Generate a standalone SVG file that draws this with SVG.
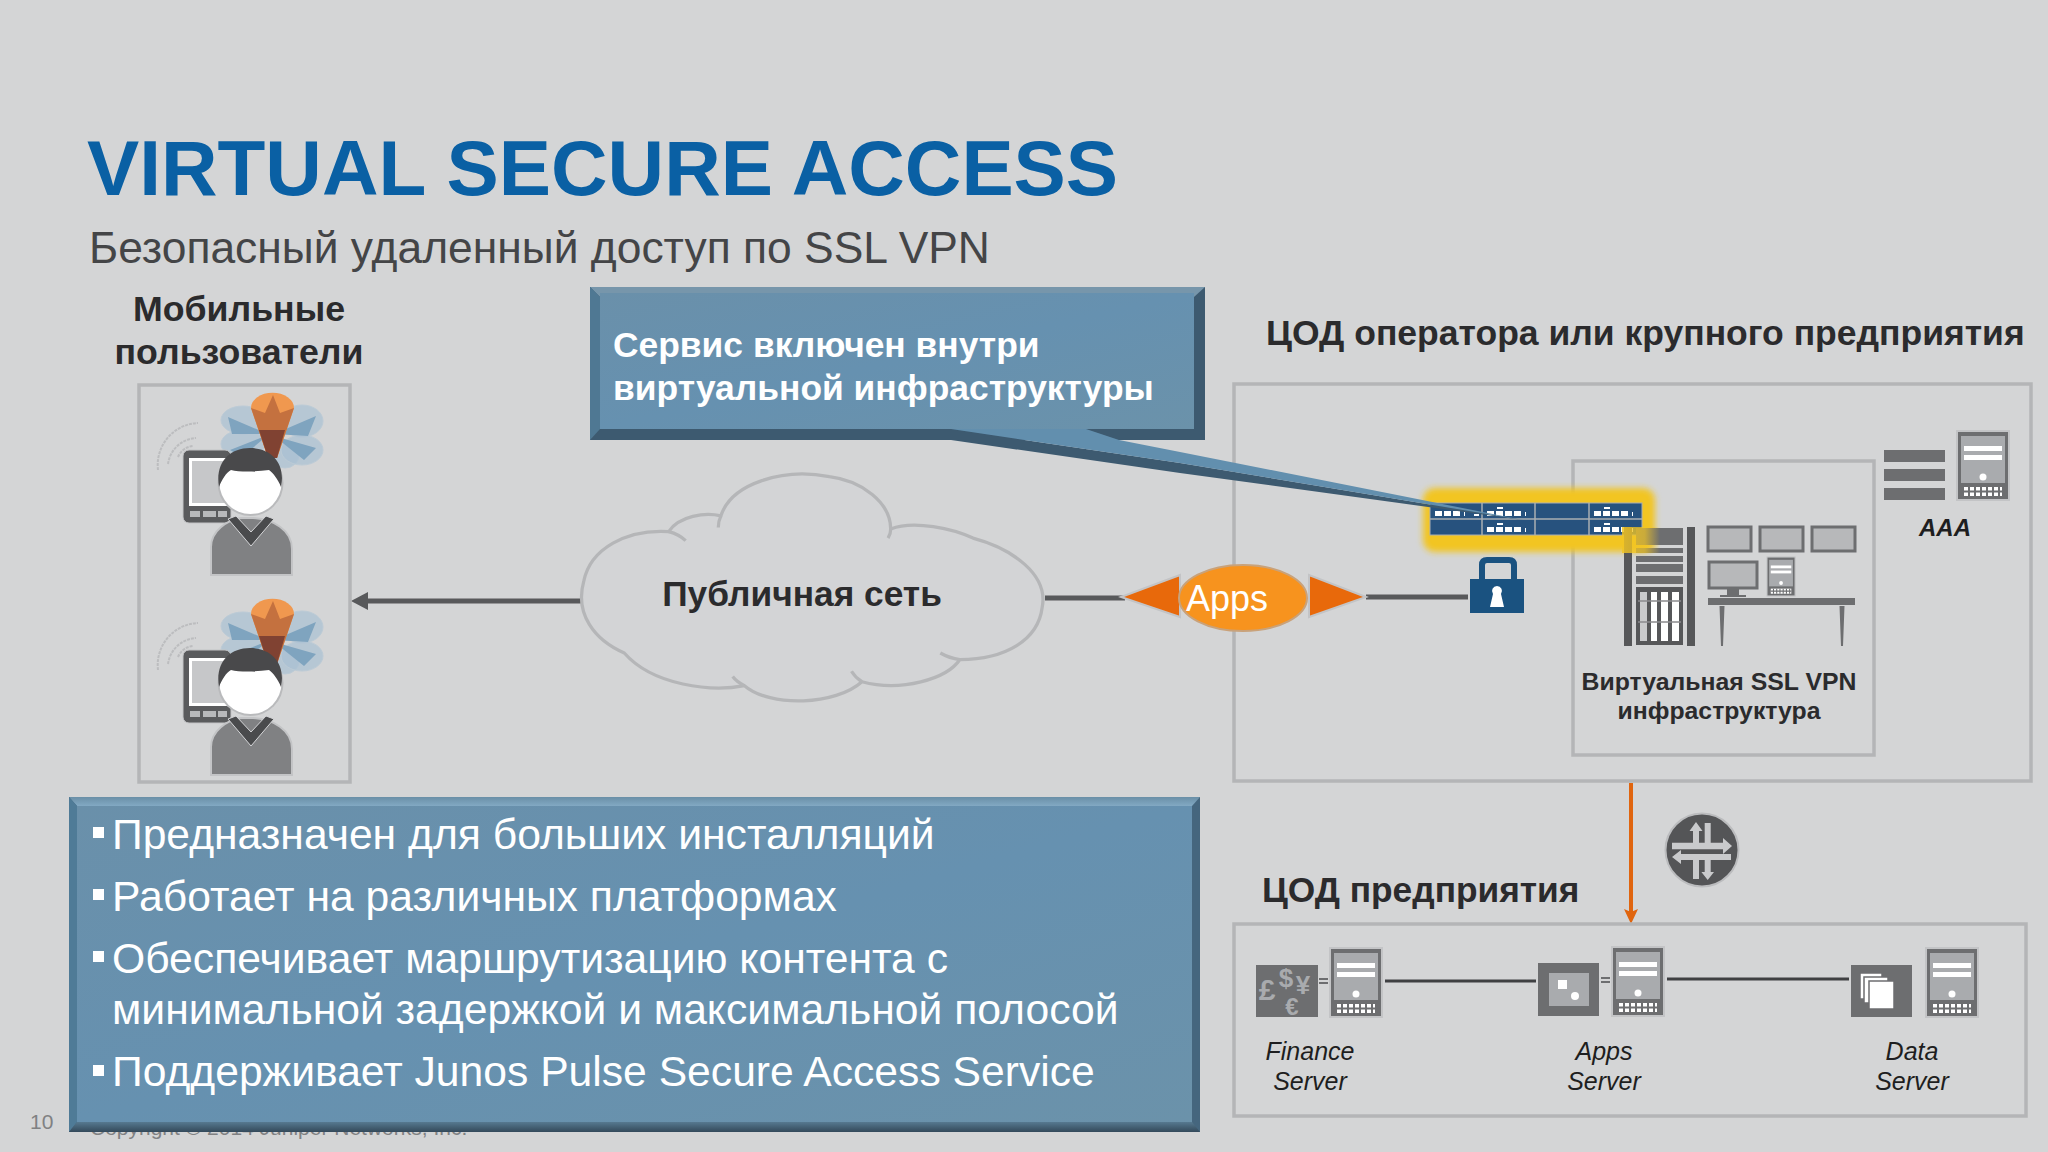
<svg xmlns="http://www.w3.org/2000/svg" xmlns:xlink="http://www.w3.org/1999/xlink" width="2048" height="1152" viewBox="0 0 2048 1152">
<style>
text{font-family:"Liberation Sans",Arial,sans-serif}
.h{font-weight:bold;fill:#2b2b2d}
.b{fill:#fff;font-size:42.65px}
.box{fill:none;stroke:#b4b5b7;stroke-width:3.5}
.i{font-style:italic;font-size:25px;fill:#1e1e20;text-anchor:middle}
.halo{stroke:#c3c4c6;stroke-width:2}
.d{fill:#6d6e70}
.g{fill:#a9abae}
.w{fill:#fff}
</style>
<defs>
<filter id="blur" x="-10%" y="-30%" width="120%" height="160%"><feGaussianBlur stdDeviation="3"/></filter>
<linearGradient id="panel" x1="0" y1="0" x2="1" y2="1"><stop offset="0" stop-color="#6a90aa"/><stop offset=".5" stop-color="#6691b0"/><stop offset="1" stop-color="#6b92aa"/></linearGradient>
<linearGradient id="bot" x1="0" y1="0" x2="0" y2="1"><stop offset="0" stop-color="#567990"/><stop offset="1" stop-color="#33495a"/></linearGradient>
<linearGradient id="top" x1="0" y1="0" x2="0" y2="1"><stop offset="0" stop-color="#6a8fa7"/><stop offset="1" stop-color="#82a9c3"/></linearGradient>
<linearGradient id="fade" x1="0" y1="0" x2="1" y2="0"><stop offset="0" stop-color="#f2c523" stop-opacity=".85"/><stop offset=".6" stop-color="#f2c523" stop-opacity=".7"/><stop offset="1" stop-color="#f2c523" stop-opacity="0"/></linearGradient>
<g id="server">
<rect x="0" y="0" width="52" height="69" class="d halo"/>
<rect x="4" y="5" width="44" height="47" class="g"/>
<rect x="7" y="15" width="38" height="5" class="w"/><rect x="7" y="24" width="38" height="5" class="w"/>
<circle cx="26" cy="46" r="3.500" class="w"/>
<rect x="7" y="56" width="38" height="9" fill="#fff"/>
<path d="M12 56v9M18 56v9M24 56v9M30 56v9M36 56v9M42 56v9M7 60.500h38" stroke="#6d6e70" stroke-width="2"/>
</g>
<g id="wings">
<g fill="#a9c1d3" fill-opacity=".7" stroke="#bccbd6">
<ellipse cx="243" cy="420" rx="22" ry="14"/><ellipse cx="243" cy="444" rx="22" ry="14"/><ellipse cx="285" cy="455" rx="14" ry="13"/>
<ellipse cx="302" cy="421" rx="21" ry="16"/><ellipse cx="302" cy="450" rx="21" ry="15"/>
</g>
<path d="M228 417l40 17-36 0zM230 450l38-15-26 22zM316 416l-42 18 34 2zM316 448l-42-12 30 24z" fill="#7fa4bf"/>
<path d="M251 408a21 15 0 0 1 43 0l-17 50h-9z" fill="#f0984f"/>
<path d="M251 408l14 5 8-18 7 18 14-5-17 50h-9z" fill="#c4713f"/>
<path d="M259 430h26l-8 28h-9z" fill="#804232"/>
</g>
<g id="user">
<g fill="none" stroke="#bcbdbf" stroke-width="2" stroke-dasharray="3 1">
<path d="M158 470a42 42 0 0 1 40-47"/><path d="M168 464a30 30 0 0 1 28-26"/><path d="M178 457a18 18 0 0 1 15-11"/>
</g>
<rect x="183" y="450" width="48" height="73" rx="6" fill="#5a5b5d" stroke="#c3c4c6"/>
<rect x="189" y="458" width="40" height="48" fill="#fff"/>
<path d="M192 461h36v42h-36z" fill="#c6c7c9"/>
<path d="M190 511h10v6h-10zM203 511h13v6h-13zM218 511h9v6h-9z" fill="#b8b9bb"/>
<path d="M211 575v-28c0-16 16-27 30-29h12c20 1 39 12 39 31v26z" fill="#808183" stroke="#c3c4c6" stroke-width="2"/>
<path d="M228 519l23 27 23-27-8-3-15 16-15-16z" fill="#4a4b4d" stroke="#d4d5d7"/>
<circle cx="250.500" cy="483" r="33" fill="#b9babc"/>
<circle cx="250.500" cy="483" r="31" fill="#fff"/>
<path d="M219 487c-4-24 10-39 31-39s36 15 31 39c-3-8-8-14-12-17-14 2-30 2-38 0-5 3-9 9-12 17z" fill="#49494b"/>
</g>
</defs>
<rect id="background" width="2048" height="1152" fill="#d4d5d6"/>
<text id="title" x="87" y="195" font-size="78.300" font-weight="bold" fill="#0a60a4">VIRTUAL SECURE ACCESS</text>
<text id="subtitle" x="89" y="263" font-size="44.400" fill="#444547">Безопасный удаленный доступ по SSL VPN</text>
<text id="page" x="30" y="1129" font-size="21" fill="#808183">10</text>
<text id="copyright" x="90" y="1135" font-size="21" fill="#808183">Copyright © 2014 Juniper Networks, Inc.</text>

<g id="connectors">
<path d="M582 601H362" stroke="#58595b" stroke-width="5" fill="none"/>
<path d="M351 601l17-9v18z" fill="#58595b"/>
<path d="M1045 598H1125M1366 597H1468" stroke="#58595b" stroke-width="5" fill="none"/>
<path d="M1631 783V915" stroke="#e0650f" stroke-width="4" fill="none"/>
<path d="M1631 924l-7-15 7 3 7-3z" fill="#e0650f"/>
<path d="M1385 981H1536M1667 979H1849" stroke="#3f4042" stroke-width="3" fill="none"/>
<path d="M1319 979h9M1319 983h9M1601 978h9M1601 982h9" stroke="#6d6e70" stroke-width="2" fill="none"/>
</g>

<g id="mobile-users">
<text class="h" x="239" y="321" font-size="35.700" text-anchor="middle">Мобильные</text>
<text class="h" x="239" y="364" font-size="35.700" text-anchor="middle">пользователи</text>
<rect class="box" x="139" y="385" width="211" height="397"/>
<use xlink:href="#wings" href="#wings"/>
<use xlink:href="#user" href="#user"/>
<use xlink:href="#wings" href="#wings" y="206"/>
<use xlink:href="#user" href="#user" y="200"/>
</g>

<g id="cloud">
<g transform="scale(1.306)" stroke="#b5b6b8" stroke-width="2.500">
<path d="M478 500C455 490 440 470 447 445C452 420 480 405 512 407C520 395 540 392 552 395C560 370 600 358 635 365C660 368 682 385 682 405C700 398 730 405 745 412C775 420 803 440 798 465C795 490 770 505 735 505C725 520 690 530 660 522C640 540 590 542 570 525C545 530 500 525 478 500Z" fill="#d3d4d6"/>
<path d="M512 407q8 2 13 7M552 395q-2 4-2 9M682 405q0 4-2 7M735 505q-8-1-15-5M660 522q-5-3-8-8M570 525q-6-3-9-7" fill="none"/>
</g>
<text class="h" x="802" y="606" font-size="35.300" text-anchor="middle">Публичная сеть</text>
</g>

<g id="datacenter-operator">
<text class="h" x="1266" y="345" font-size="35.500">ЦОД оператора или крупного предприятия</text>
<rect class="box" x="1234" y="384" width="797" height="397"/>
<rect class="box" x="1573" y="461" width="301" height="294"/>
</g>

<g id="apps">
<path d="M1121 597l59-22v42z" fill="#e8690b" stroke="#c3c4c6" stroke-width="2"/>
<path d="M1366 597l-57-22v42z" fill="#e8690b" stroke="#c3c4c6" stroke-width="2"/>
<ellipse cx="1243" cy="598" rx="64" ry="33" fill="#f7931e" stroke="#c9a27a" stroke-width="2"/>
<text x="1186" y="611" font-size="36" fill="#fff">Apps</text>
</g>

<g id="vpn-device">
<rect x="1423" y="488" width="232" height="64" rx="12" fill="#f2c523" filter="url(#blur)"/>
<rect x="1430" y="503" width="212" height="32" fill="#27527e" stroke="#a9aeb3"/>
<path d="M1430 519H1642M1482 503V535M1535 503V535M1589 503V535" stroke="#a9aeb3" stroke-width="1.500"/>
<g fill="#fff">
<path d="M1435 511h7v5h-7zM1444 511h7v5h-7zM1453 511h7v5h-7zM1464 512h1v4h-1zM1474 514h5v2h-5z"/>
<path d="M1487 511h7v5h-7zM1496 511h7v5h-7zM1505 511h7v5h-7zM1514 511h7v5h-7zM1525 512h1v4h-1zM1497 507h6v2h-6z"/>
<path d="M1487 527h7v5h-7zM1496 527h7v5h-7zM1505 527h7v5h-7zM1514 527h7v5h-7zM1525 528h1v4h-1zM1497 523h6v2h-6z"/>
<path d="M1594 511h7v5h-7zM1603 511h7v5h-7zM1612 511h7v5h-7zM1621 511h7v5h-7zM1632 512h1v4h-1zM1604 507h6v2h-6z"/>
<path d="M1594 527h7v5h-7zM1603 527h7v5h-7zM1612 527h7v5h-7zM1621 527h7v5h-7zM1632 528h1v4h-1zM1604 523h6v2h-6z"/>
</g>
</g>

<g id="lock">
<path d="M1482 580v-15q0-5 5-5h22q5 0 5 5v15" fill="none" stroke="#1a5280" stroke-width="6"/>
<rect x="1470" y="579" width="54" height="34" fill="#1a5280"/>
<path d="M1497 586a5 5 0 0 1 4 8l3 13h-14l3-13a5 5 0 0 1 4-8z" fill="#fff"/>
</g>

<g id="callout">
<rect x="590" y="287" width="615" height="153" fill="#3d5a70"/>
<polygon points="590,287 1205,287 1194,297 600,297" fill="#7796ab"/>
<polygon points="590,287 600,297 600,429 590,440" fill="#4f7893"/>
<rect x="600" y="293" width="594" height="136" fill="url(#panel)"/>
<polygon points="951,429 951,440 1180,473 1523,520 1180,463" fill="#3d5a70"/>
<polygon points="951,429 1086,429 1119,440 1180,452 1523,520 1180,463" fill="#628fae"/>
<text x="613" y="357" font-size="35.400" font-weight="bold" fill="#fff">Сервис включен внутри</text>
<text x="613" y="400" font-size="35.400" font-weight="bold" fill="#fff">виртуальной инфраструктуры</text>
</g>

<g id="vpn-infrastructure">
<g fill="#565759">
<rect x="1624" y="527" width="8" height="119"/><rect x="1687" y="527" width="8" height="119"/>
<rect x="1636" y="587" width="47" height="58"/>
</g>
<path d="M1636 528h47v17h-47zM1636 548h47v5h-47zM1636 556h47v6h-47zM1636 564h47v8h-47zM1636 576h47v8h-47z" fill="#6d6e70"/>
<path d="M1640 592h7v49h-7z" fill="#c9cacc"/>
<path d="M1651 592h6v49h-6zM1661 592h7v49h-7zM1672 592h7v49h-7z" fill="#fff"/>
<path d="M1638 601h43M1638 622h43" stroke="#8a8b8d" stroke-width="1.500"/>
<rect x="1622" y="527" width="38" height="26" fill="url(#fade)"/>
<g fill="#b7b8ba" stroke="#6d6e70" stroke-width="3">
<rect x="1708" y="527" width="43" height="24"/><rect x="1760" y="527" width="43" height="24"/><rect x="1812" y="527" width="43" height="24"/>
<rect x="1709" y="562" width="48" height="26"/>
</g>
<path d="M1727 589h12v6h7v2h-26v-2h7z" fill="#6d6e70"/>
<use xlink:href="#server" href="#server" transform="translate(1767 557) scale(.54 .565)"/>
<rect x="1708" y="598" width="147" height="7" fill="#6d6e70"/>
<path d="M1719.500 606h5l-1.500 40h-2zM1839.500 606h5l-1.500 40h-2z" fill="#6d6e70"/>
<text class="h" x="1719" y="690" font-size="24.800" text-anchor="middle">Виртуальная SSL VPN</text>
<text class="h" x="1719" y="719" font-size="24.800" text-anchor="middle">инфраструктура</text>
</g>

<g id="aaa">
<path d="M1884 450h61v12h-61zM1884 469h61v12h-61zM1884 488h61v12h-61z" class="d"/>
<use xlink:href="#server" href="#server" x="1957" y="431"/>
<text x="1945" y="536" font-size="24" font-weight="bold" font-style="italic" fill="#1e1e20" text-anchor="middle">AAA</text>
</g>

<g id="router" transform="translate(1702 850)">
<circle r="36.500" fill="#545557" stroke="#bbbcbe" stroke-width="2"/>
<path d="M-30-7.300H2.700V-27H8.700V-7.300H21V-12L30-4 21 4V-.7H-30ZM-9-7.300V-19H-12.500L-6-28 .5-19H-3V-7.300ZM29 4V10H-21V14L-30 7-21 0V4ZM-9 10H-3V29H-9ZM2.700 10H8.700V22H12L5.700 30-.6 22H2.700Z" fill="#c9cacc"/>
</g>

<g id="datacenter-enterprise">
<text class="h" x="1262" y="902" font-size="35.300">ЦОД предприятия</text>
<rect class="box" x="1234" y="924" width="792" height="192"/>
</g>

<g id="finance-server">
<rect x="1256" y="965" width="62" height="52" class="d"/>
<g fill="#a9abae" font-weight="bold" text-anchor="middle"><text x="1267" y="1000" font-size="30">£</text><text x="1286" y="987" font-size="26">$</text><text x="1303" y="994" font-size="26">¥</text><text x="1292" y="1015" font-size="24">€</text></g>
<use xlink:href="#server" href="#server" x="1330" y="948"/>
<text class="i" x="1310" y="1060">Finance</text><text class="i" x="1310" y="1090">Server</text>
</g>

<g id="apps-server">
<rect x="1538" y="963" width="61" height="53" class="d"/>
<rect x="1549" y="973" width="40" height="33" class="g"/>
<rect x="1558" y="980" width="9" height="9" class="w"/><circle cx="1575" cy="996" r="4" class="w"/>
<use xlink:href="#server" href="#server" x="1612" y="947"/>
<text class="i" x="1604" y="1060">Apps</text><text class="i" x="1604" y="1090">Server</text>
</g>

<g id="data-server">
<rect x="1851" y="965" width="61" height="52" class="d"/>
<g fill="#fff" stroke="#6d6e70" stroke-width="1.500"><rect x="1860" y="973" width="22" height="26"/><rect x="1864" y="977" width="24" height="26"/><rect x="1869" y="981" width="25" height="28"/></g>
<use xlink:href="#server" href="#server" x="1926" y="948"/>
<text class="i" x="1912" y="1060">Data</text><text class="i" x="1912" y="1090">Server</text>
</g>

<g id="features">
<rect x="69" y="797" width="1131" height="335" fill="#45667e"/>
<polygon points="69,797 1200,797 1192,806 77,806" fill="url(#top)"/>
<polygon points="69,797 77,806 77,1122 69,1132" fill="#4f7b97"/>
<polygon points="69,1132 77,1122 1192,1122 1200,1132" fill="url(#bot)"/>
<rect x="77" y="806" width="1115" height="316" fill="url(#panel)"/>
<path d="M93 827h11v11h-11zM93 889h11v11h-11zM93 951h11v11h-11zM93 1065h11v11h-11z" fill="#fff"/>
<text class="b" x="112" y="849">Предназначен для больших инсталляций</text>
<text class="b" x="112" y="911">Работает на различных платформах</text>
<text class="b" x="112" y="973">Обеспечивает маршрутизацию контента с</text>
<text class="b" x="112" y="1024">минимальной задержкой и максимальной полосой</text>
<text class="b" x="112" y="1086">Поддерживает Junos Pulse Secure Access Service</text>
</g>
</svg>
